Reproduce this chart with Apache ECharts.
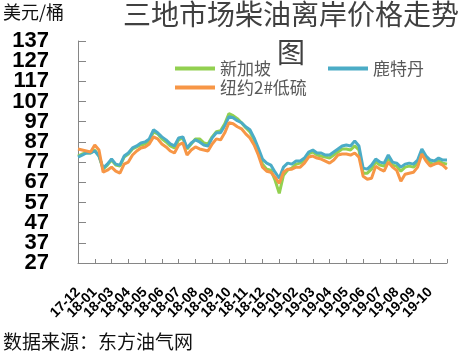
<!DOCTYPE html>
<html>
<head>
<meta charset="utf-8">
<script src="https://cdn.jsdelivr.net/npm/echarts@6/dist/echarts.min.js"></script>
<style>
  html, body { margin: 0; padding: 0; background: #fff; }
  #chart { width: 464px; height: 352px; }
</style>
</head>
<body>
<div id="chart"></div>
<script>
// x axis labels, one every 4 points
const tickLabels = ['17-12', '18-01', '18-03', '18-04', '18-05', '18-06', '18-07', '18-08',
  '18-09', '18-10', '18-11', '18-12', '19-01', '19-02', '19-03', '19-04', '19-05', '19-06',
  '19-07', '19-08', '19-09', '19-10']
const yTicks = [27, 37, 47, 57, 67, 77, 87, 97, 107, 117, 127, 137]

// 新加坡
const singapore = [80, 81, 81.5, 81.5, 83, 80, 73.5, 75.5, 78, 75.5, 75, 79.5, 81, 83.5, 84.5, 85.5,
  86, 87.5, 92, 91, 88.5, 87, 85, 84, 88, 89, 83.5, 86, 88.5, 88.5, 86.5, 86, 89.5, 92, 92.5, 96,
  101, 100, 98.5, 96.5, 94, 92, 88, 82, 76, 73.5, 73, 68, 61.5, 70.5, 73, 74, 76, 76.5, 78, 81,
  82, 80.5, 80, 79.5, 79, 80.5, 82, 83.5, 83.5, 83, 85, 83, 71.5, 71.5, 73.5, 77, 75.5, 75, 79,
  75.5, 75, 72.5, 74.5, 75, 74.5, 76.5, 82, 78.5, 76.5, 76, 77.5, 76.5, 76]
// 鹿特丹
const rotterdam = [79.5, 80.5, 81.5, 81.5, 82.5, 80, 74, 76, 78.5, 76, 75.5, 80, 81.5, 84, 85, 86.5,
  87, 88.5, 93, 91.5, 89.5, 88, 86, 85, 89, 89.5, 84, 86.5, 88, 87, 85.5, 85, 89, 91.5, 91.5, 95,
  99.5, 99, 97.5, 96.5, 94.5, 93, 89, 84, 78.5, 76.5, 75.5, 72, 69, 74.5, 76.5, 76, 77.5, 77.5, 79,
  82, 83, 81.5, 81.5, 80.5, 80.5, 82, 83.5, 85, 85.5, 85, 87.5, 85, 74, 73.5, 75.5, 78.5, 77, 76.5,
  80.5, 77, 76.5, 74.5, 76, 76.5, 76, 78, 83.5, 80, 78, 77.5, 79, 78, 78]
// 纽约2#低硫
const newYork = [83.5, 83, 82.5, 82, 85.5, 83, 72, 73, 74.5, 72.5, 71.5, 76, 77, 80.5, 82.5, 84,
  84.5, 86, 89.5, 88.5, 86, 84.5, 82.5, 81.5, 85.5, 86.5, 80.5, 83, 84.5, 83.5, 83, 82.5, 86, 88.5,
  88, 91.5, 96.5, 96, 94.5, 93.5, 91, 89, 85.5, 80.5, 74.5, 72.5, 72, 69.5, 66.5, 72, 73.5, 73.5,
  74.5, 74.5, 76.5, 79.5, 80, 79, 78.5, 77.5, 76.5, 78, 80.5, 81, 81, 80.5, 81.5, 79.5, 70, 68.5,
  69, 75, 73.5, 72.5, 77, 74.5, 73, 67.5, 71, 71.5, 72, 74.5, 81, 77.5, 75, 76, 76.5, 75.5, 73.5]

const categories = singapore.map((v, i) => (tickLabels[Math.floor(i / 4)] || '') + '|' + (i % 4))

const axisGray = '#868686'
const chart = echarts.init(document.getElementById('chart'))

// labels are big and tightly packed, so they're split over two axes each
// to stop echarts dropping the ones that touch
const xLabel = {
  rotate: 45,
  margin: 27,
  color: '#000',
  fontWeight: 'bold',
  fontSize: 14,
  fontFamily: 'Liberation Sans',
  formatter: v => v.split('|')[0]
}
const yLabel = {
  margin: 29,
  color: '#000',
  fontWeight: 'bold',
  fontSize: 22,
  fontFamily: 'Liberation Sans'
}

chart.setOption({
  animation: false,
  backgroundColor: '#fff',
  grid: { left: 78, right: 17, top: 41, bottom: 89 },
  legend: [
    {
      data: ['新加坡'], left: 175, top: 60, padding: 0,
      icon: 'rect', itemWidth: 40, itemHeight: 4,
      textStyle: { fontSize: 17, color: '#595959', fontFamily: 'Noto Sans CJK SC' }
    },
    {
      data: ['鹿特丹'], left: 328, top: 60, padding: 0,
      icon: 'rect', itemWidth: 40, itemHeight: 4,
      textStyle: { fontSize: 17, color: '#595959', fontFamily: 'Noto Sans CJK SC' }
    },
    {
      data: ['纽约2#低硫'], left: 175, top: 79, padding: 0,
      icon: 'rect', itemWidth: 40, itemHeight: 4,
      textStyle: { fontSize: 17, color: '#595959', fontFamily: 'Noto Sans CJK SC' }
    }
  ],
  graphic: [
    {
      type: 'text', x: 291, y: -5,
      style: {
        text: '三地市场柴油离岸价格走势\n图',
        font: '28px "Noto Sans CJK SC"',
        fill: '#404040',
        lineHeight: 38,
        align: 'center',
        verticalAlign: 'top'
      }
    },
    {
      type: 'text', x: 3, y: 12,
      style: {
        text: '美元/桶', font: '18px "Noto Sans CJK SC"', fill: '#111',
        align: 'left', verticalAlign: 'middle'
      }
    },
    {
      type: 'text', x: 3, y: 342,
      style: {
        text: '数据来源：东方油气网', font: '19px "Noto Sans CJK SC"', fill: '#111',
        align: 'left', verticalAlign: 'middle'
      }
    }
  ],
  xAxis: [
    {
      type: 'category',
      data: categories,
      boundaryGap: false,
      axisLine: { lineStyle: { color: axisGray } },
      axisTick: { interval: 3, inside: true, length: 4, lineStyle: { color: axisGray } },
      axisLabel: Object.assign({ interval: i => i % 8 === 0 }, xLabel),
      splitLine: { show: false }
    },
    {
      type: 'category',
      position: 'bottom',
      data: categories,
      boundaryGap: false,
      axisLine: { show: false },
      axisTick: { show: false },
      axisLabel: Object.assign({ interval: i => i % 8 === 4 }, xLabel),
      splitLine: { show: false }
    }
  ],
  yAxis: [
    {
      type: 'value',
      min: 27,
      max: 137,
      axisLine: { show: true, lineStyle: { color: axisGray } },
      axisTick: { show: true, inside: true, length: 8, customValues: yTicks, lineStyle: { color: axisGray } },
      axisLabel: Object.assign({ customValues: yTicks.filter((v, i) => i % 2 === 0) }, yLabel),
      splitLine: { show: false }
    },
    {
      type: 'value',
      position: 'left',
      min: 27,
      max: 137,
      axisLine: { show: false },
      axisTick: { show: false },
      axisLabel: Object.assign({ customValues: yTicks.filter((v, i) => i % 2 === 1) }, yLabel),
      splitLine: { show: false }
    }
  ],
  series: [
    {
      name: '新加坡', type: 'line', data: singapore, showSymbol: false,
      color: '#92D050', lineStyle: { width: 3 }
    },
    {
      name: '鹿特丹', type: 'line', data: rotterdam, showSymbol: false,
      color: '#4BACC6', lineStyle: { width: 3 }
    },
    {
      name: '纽约2#低硫', type: 'line', data: newYork, showSymbol: false,
      color: '#F79646', lineStyle: { width: 3 }
    }
  ]
})
</script>
</body>
</html>
